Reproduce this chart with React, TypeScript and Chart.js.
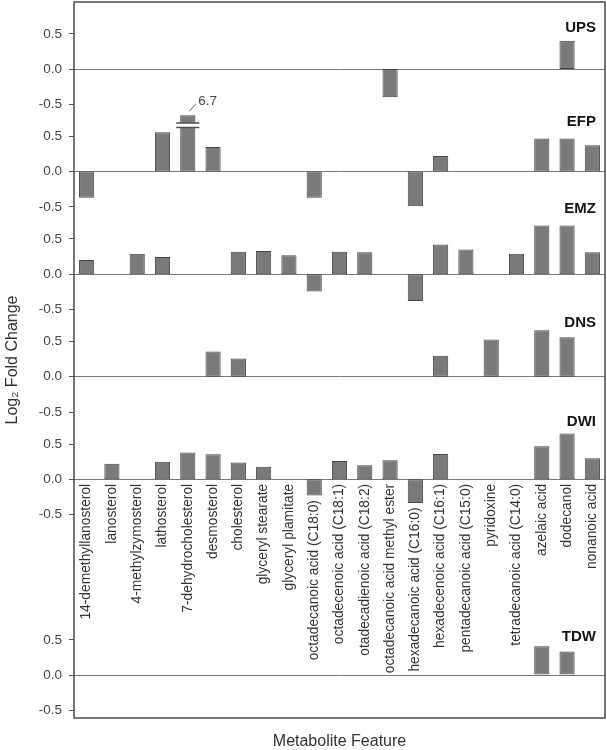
import React, { useEffect, useRef } from "react";
import { Chart, registerables } from "chart.js";

Chart.register(...registerables);

// ---------- data ----------
const categories = [
  "14-demethyllanosterol",
  "lanosterol",
  "4-methylzymosterol",
  "lathosterol",
  "7-dehydrocholesterol",
  "desmosterol",
  "cholesterol",
  "glyceryl stearate",
  "glyceryl plamitate",
  "octadecanoic acid (C18:0)",
  "octadecenoic acid (C18:1)",
  "otadecadienoic acid (C18:2)",
  "octadecanoic acid methyl ester",
  "hexadecanoic acid (C16:0)",
  "hexadecenoic acid (C16:1)",
  "pentadecanoic acid (C15:0)",
  "pyridoxine",
  "tetradecanoic acid (C14:0)",
  "azelaic acid",
  "dodecanol",
  "nonanoic acid",
];

const N = null;
const UPS = [N, N, N, N, N, N, N, N, N, N, N, N, -0.4, N, N, N, N, N, N, 0.4, N];
const EFP = [-0.37, N, N, 0.56, 6.7, 0.35, N, N, N, -0.37, N, N, N, -0.49, 0.22, N, N, N, 0.47, 0.47, 0.375];
const EMZ = [0.2, N, 0.29, 0.245, N, N, 0.32, 0.33, 0.27, -0.245, 0.32, 0.31, N, -0.38, 0.42, 0.35, N, 0.29, 0.69, 0.69, 0.31];
const DNS = [N, N, N, N, N, 0.36, 0.26, N, N, N, N, N, N, N, 0.3, N, 0.53, N, 0.66, 0.56, N];
const DWI = [N, 0.22, N, 0.25, 0.38, 0.355, 0.24, 0.18, N, -0.23, 0.26, 0.2, 0.27, -0.335, 0.36, N, N, N, 0.47, 0.65, 0.3];
const TDW = [N, N, N, N, N, N, N, N, N, N, N, N, N, N, N, N, N, N, 0.41, 0.335, N];

const panelNames = ["UPS", "EFP", "EMZ", "DNS", "DWI", "TDW"];
const yTickValues = [-0.5, 0, 0.5];
const yTickLabels = ["-0.5", "0.0", "0.5"];
const brokenValueCap = 0.8;

// ---------- layout (positions in axis units) ----------
const panelOffsets = [8.596, 7.141, 5.686, 4.231, 2.776, 0];
const panelLabelPos = [0.585, 0.708, 0.93, 0.765, 0.817, 0.542];
const labelPanel = 4; // category labels hang below this panel's zero line
const breakTop = 0.69;
const breakBottom = 0.625;
const Y_MIN = -0.609;
const Y_MAX = 9.547;
const FONT = '"Liberation Sans", Arial, Helvetica, sans-serif';

export default function App() {
  const ref = useRef<HTMLCanvasElement>(null);

  useEffect(() => {
    if (!ref.current) return;
    Chart.defaults.font.family = FONT;
    const series = [UPS, EFP, EMZ, DNS, DWI, TDW];

    const datasets = series.map((vals, p) => ({
      label: panelNames[p],
      data: vals.map((v) =>
        v === null ? null : [panelOffsets[p], panelOffsets[p] + Math.min(v, brokenValueCap)]
      ),
      backgroundColor: "#7a7a7a",
      borderColor: "#474747",
      borderWidth: 1,
      borderSkipped: false,
      grouped: false,
      barPercentage: 0.6,
      categoryPercentage: 1,
    }));

    // ascending tick list (bottom panel first)
    const tickList: number[] = [];
    for (let p = panelOffsets.length - 1; p >= 0; p--) {
      yTickValues.forEach((t) => tickList.push(panelOffsets[p] + t));
    }

    const overlay = {
      id: "overlay",
      afterDatasetsDraw(chart: any) {
        const { ctx, scales } = chart;
        const ys = scales.y;
        series.forEach((vals, p) =>
          vals.forEach((v, i) => {
            if (v === null || v <= brokenValueCap) return;
            const el = chart.getDatasetMeta(p).data[i];
            const x = el.x;
            const w = el.width;
            const yA = ys.getPixelForValue(panelOffsets[p] + breakTop);
            const yB = ys.getPixelForValue(panelOffsets[p] + breakBottom);
            ctx.save();
            ctx.fillStyle = "#ffffff";
            ctx.fillRect(x - w / 2 - 1, yA, w + 2, yB - yA);
            ctx.strokeStyle = "#505050";
            ctx.lineWidth = 1.5;
            ctx.beginPath();
            ctx.moveTo(x - w / 2 - 4, yA);
            ctx.lineTo(x + w / 2 + 4, yA);
            ctx.moveTo(x - w / 2 - 4, yB);
            ctx.lineTo(x + w / 2 + 4, yB);
            ctx.stroke();
            const top = el.y;
            ctx.strokeStyle = "#666666";
            ctx.lineWidth = 1;
            ctx.beginPath();
            ctx.moveTo(x + 1.5, top - 4);
            ctx.lineTo(x + 8, top - 11);
            ctx.stroke();
            ctx.fillStyle = "#444444";
            ctx.font = `13.5px ${FONT}`;
            ctx.textAlign = "left";
            ctx.textBaseline = "middle";
            ctx.fillText(String(v), x + 10.5, top - 14);
            ctx.restore();
          })
        );
      },
      afterDraw(chart: any) {
        const { ctx, chartArea: a, scales } = chart;
        const xs = scales.x;
        const ys = scales.y;
        ctx.save();
        // category labels, rotated, hanging below the DWI zero line (or below its bar)
        ctx.fillStyle = "#333333";
        ctx.font = `13.8px ${FONT}`;
        ctx.textAlign = "right";
        ctx.textBaseline = "middle";
        const zeroPix = ys.getPixelForValue(panelOffsets[labelPanel]);
        categories.forEach((name, i) => {
          const v = series[labelPanel][i];
          let yTop = zeroPix;
          if (v !== null && v < 0) yTop = ys.getPixelForValue(panelOffsets[labelPanel] + v);
          const x = xs.getPixelForValue(i);
          ctx.save();
          ctx.translate(x, yTop + 4.5);
          ctx.rotate(-Math.PI / 2);
          ctx.fillText(name, 0, 0);
          ctx.restore();
        });
        // frame
        ctx.strokeStyle = "#4a4a4a";
        ctx.lineWidth = 1.5;
        ctx.strokeRect(a.left, a.top, a.right - a.left, a.bottom - a.top);
        // panel names
        ctx.fillStyle = "#151515";
        ctx.font = `bold 15px ${FONT}`;
        ctx.textAlign = "right";
        ctx.textBaseline = "middle";
        panelNames.forEach((name, p) => {
          const y = ys.getPixelForValue(panelOffsets[p] + panelLabelPos[p]);
          ctx.fillText(name, a.right - 9, y);
        });
        ctx.restore();
      },
    };

    const chart = new Chart(ref.current, {
      type: "bar",
      data: { labels: categories, datasets: datasets as any },
      options: {
        animation: false,
        responsive: true,
        maintainAspectRatio: false,
        layout: { padding: { top: 2, right: 2, left: 0, bottom: 0 } },
        plugins: {
          legend: { display: false },
          tooltip: { enabled: false },
          title: {
            display: true,
            position: "bottom",
            text: "Metabolite Feature",
            fullSize: false,
            color: "#333333",
            font: { size: 16, weight: "normal", lineHeight: 1 },
            padding: { top: 16, bottom: 0 },
          },
        },
        scales: {
          x: {
            type: "category",
            display: false,
          },
          y: {
            type: "linear",
            min: Y_MIN,
            max: Y_MAX,
            afterBuildTicks: (s: any) => {
              s.ticks = tickList.map((v) => ({ value: v }));
            },
            ticks: {
              autoSkip: false,
              callback: (_v: any, i: number) => yTickLabels[i % 3],
              padding: 7,
              color: "#444444",
              font: { size: 13.5 },
            },
            grid: {
              color: (c: any) => (c.index % 3 === 1 ? "#7a7a7a" : "rgba(0,0,0,0)"),
              tickColor: "#555555",
              tickLength: 5,
              lineWidth: 1,
            },
            border: { display: false },
            title: {
              display: true,
              text: "Log₂ Fold Change",
              color: "#333333",
              font: { size: 16 },
              padding: { top: 3, bottom: 0 },
            },
            afterFit: (s: any) => {
              s.width = 74;
              s.paddingTop = 0;
              s.paddingBottom = 0;
            },
          },
        },
      },
      plugins: [overlay],
    });
    return () => chart.destroy();
  }, []);

  return (
    <div style={{ position: "absolute", left: 0, top: 0, width: 607, height: 750 }}>
      <canvas ref={ref} />
    </div>
  );
}
